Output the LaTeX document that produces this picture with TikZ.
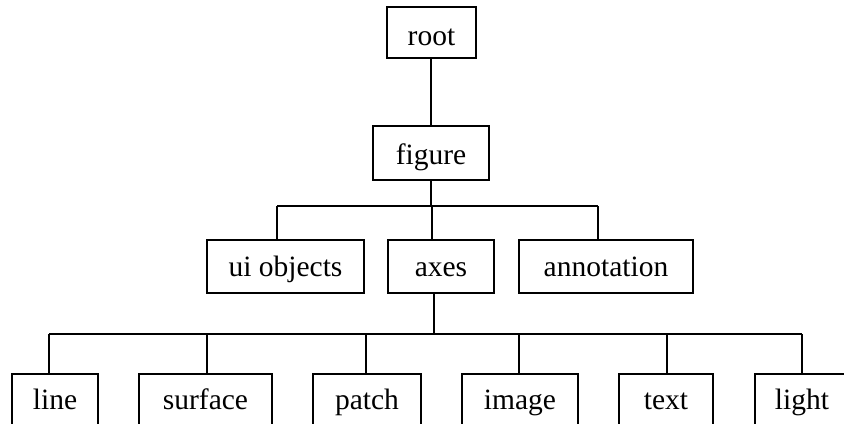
\documentclass[tikz,border=0pt]{standalone}
\usepackage{fontspec}
\setmainfont{Liberation Serif}
\begin{document}
\begin{tikzpicture}[x=1bp,y=-1bp,
  every node/.style={font=\fontsize{29.5bp}{34bp}\selectfont},
  box/.style={draw, line width=1.3bp, inner sep=0pt, rectangle},
  link/.style={line width=1.3bp},
  rootrow/.style={box, minimum height=51bp, text height=26bp, text depth=0bp},
  figrow/.style={box, minimum height=54bp, text height=24bp, text depth=2bp},
  midrow/.style={box, minimum height=53bp, text height=21bp, text depth=2bp},
  lowrow/.style={box, minimum height=56bp, text height=20bp, text depth=6bp}]
\useasboundingbox (0,0) rectangle (844,423);
\clip (0,0) rectangle (844,423);

% tree nodes
\node[rootrow, minimum width=89bp] (root) at (431.5,32.5) {root};
\node[figrow, minimum width=116bp] (figure) at (431,153) {figure};

\node[midrow, minimum width=157bp] (ui) at (285.5,266.5) {ui objects};
\node[midrow, minimum width=106bp] (axes) at (441,266.5) {axes};
\node[midrow, minimum width=174bp] (annot) at (606,266.5) {annotation};

\node[lowrow, minimum width=86bp] (line) at (55,402) {line};
\node[lowrow, minimum width=133bp] (surface) at (205.5,402) {surface};
\node[lowrow, minimum width=108bp] (patch) at (367,402) {patch};
\node[lowrow, minimum width=116bp] (image) at (520,402) {image};
\node[lowrow, minimum width=94bp] (text) at (666,402) {text};
\node[lowrow, minimum width=94bp] (light) at (802,402) {light};

% bus points
\coordinate (fb) at (431,206);
\coordinate (fbL) at (277,206);
\coordinate (fbM) at (432,206);
\coordinate (fbR) at (598,206);
\coordinate (ab) at (434,334);
\coordinate (abL) at (49,334);
\coordinate (ab2) at (207,334);
\coordinate (ab3) at (366,334);
\coordinate (ab4) at (519,334);
\coordinate (ab5) at (667,334);
\coordinate (abR) at (802,334);

% connectors
\draw[link] (root.south -| 431,0) -- (figure.north -| 431,0);
\draw[link] (figure.south -| fb) -- (fb);
\draw[link] (fbL) -- (fbR);
\draw[link] (fbL) -- (ui.north -| fbL);
\draw[link] (fbM) -- (axes.north -| fbM);
\draw[link] (fbR) -- (annot.north -| fbR);

\draw[link] (axes.south -| ab) -- (ab);
\draw[link] (abL) -- (abR);
\draw[link] (abL) -- (line.north -| abL);
\draw[link] (ab2) -- (surface.north -| ab2);
\draw[link] (ab3) -- (patch.north -| ab3);
\draw[link] (ab4) -- (image.north -| ab4);
\draw[link] (ab5) -- (text.north -| ab5);
\draw[link] (abR) -- (light.north -| abR);
\end{tikzpicture}
\end{document}
